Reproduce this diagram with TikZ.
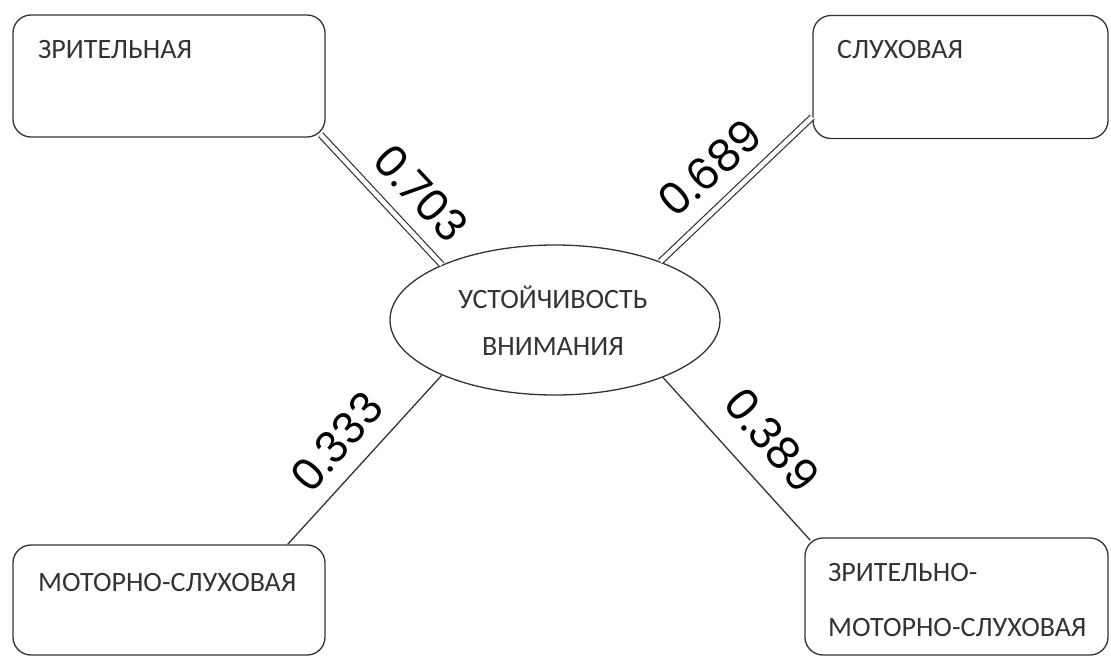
\documentclass[tikz,border=0pt]{standalone}
\usepackage{fontspec}
\setmainfont{Carlito}
\newfontfamily\numfont{Poppins}
\usetikzlibrary{shapes.geometric,calc}
\definecolor{ink}{HTML}{333333}
\tikzset{
  box/.style={draw=ink, line width=1.3pt, rounded corners=18pt, inner sep=0pt},
  btext/.style={text=ink, font=\fontsize{28}{32}\selectfont, anchor=west, inner sep=0pt},
  single/.style={draw=ink, line width=1.3pt},
  twin/.style={draw=ink, line width=1.2pt, double=white, double distance=4.5pt},
  num/.style={font=\numfont\fontsize{44}{48}\selectfont, text=black, inner sep=0pt}
}
\begin{document}
\begin{tikzpicture}[x=1pt,y=-1pt]
\useasboundingbox (0,0) rectangle (1111,657);
% boxes
\node[box, minimum width=312pt, minimum height=122pt] (b1) at (169,76) {};
\node[box, minimum width=295pt, minimum height=123pt] (b2) at (960.5,77) {};
\node[box, minimum width=312pt, minimum height=110pt] (b3) at (169,600) {};
\node[box, minimum width=303pt, minimum height=117pt] (b4) at (956.5,596.5) {};
\node[btext] (t1) at (38,50) {ЗРИТЕЛЬНАЯ};
\node[btext] (t2) at (837,50) {СЛУХОВАЯ};
\node[btext] (t3) at (38,582) {МОТОРНО-СЛУХОВАЯ};
\node[btext] (t4a) at (828,572) {ЗРИТЕЛЬНО-};
\node[btext] (t4b) at (828,627) {МОТОРНО-СЛУХОВАЯ};
% centre
\node[ellipse, draw=ink, line width=1.3pt, minimum width=330pt, minimum height=150pt, inner sep=0pt] (c) at (555,320) {};
\node[btext, anchor=center] (ct1) at (553,297) {УСТОЙЧИВОСТЬ};
\node[btext, anchor=center] (ct2) at (553,347) {ВНИМАНИЯ};
% connectors
\draw[twin] (c.154) -- ($(b1.south east)+(-5,-3)$);
\draw[twin] (c.29) -- ($(b2.west)+(0,40)$);
\draw[single] (c.206) -- ($(b3.north east)+(-38,0)$);
\draw[single] (c.-28) -- ($(b4.north west)+(6,3)$);
% labels
\node[num, rotate=-47] (l1) at (421,193) {0.703};
\node[num, rotate=42] (l2) at (710,168) {0.689};
\node[num, rotate=49] (l3) at (337,442) {0.333};
\node[num, rotate=-50] (l4) at (772,440) {0.389};
\end{tikzpicture}
\end{document}
